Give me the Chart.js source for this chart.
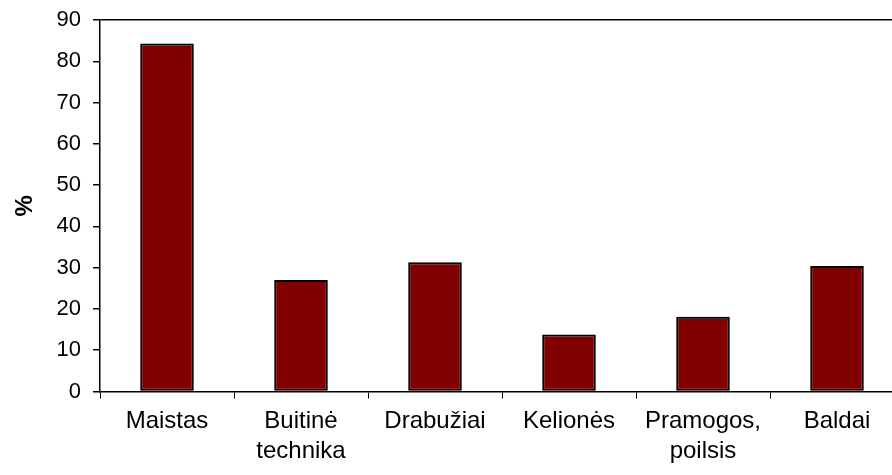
<!DOCTYPE html>
<html>
<head>
<meta charset="utf-8">
<script src="https://cdn.jsdelivr.net/npm/chart.js@4.4.0/dist/chart.umd.min.js"></script>
<style>
  html, body { margin: 0; padding: 0; background: #fff; overflow: hidden; width: 892px; height: 475px; }
  #wrap { position: absolute; left: 0; top: 0; width: 910px; height: 475px; }
</style>
</head>
<body>
<div id="wrap"><canvas id="c" width="910" height="475"></canvas></div>
<script>
const categories = ['Maistas', ['Buitinė', 'technika'], 'Drabužiai', 'Kelionės', ['Pramogos,', 'poilsis'], 'Baldai'];
const values = [84.3, 27.0, 31.3, 13.8, 18.1, 30.4];
const yTicks = [0, 10, 20, 30, 40, 50, 60, 70, 80, 90];
const yTitle = '%';

const FONT = '"Liberation Sans", Arial, sans-serif';

new Chart(document.getElementById('c'), {
  type: 'bar',
  data: {
    labels: categories,
    datasets: [{
      data: values,
      backgroundColor: '#800000',
      borderColor: '#000000',
      borderWidth: 2,
      borderSkipped: false,
      barPercentage: 0.4,
      categoryPercentage: 1.0
    }]
  },
  options: {
    responsive: false,
    animation: false,
    layout: { padding: { top: 20, right: 6, left: 0, bottom: 0 } },
    plugins: { legend: { display: false }, tooltip: { enabled: false } },
    scales: {
      x: {
        offset: true,
        border: { display: true, color: '#000', width: 1.5 },
        grid: { offset: true, drawOnChartArea: false, drawTicks: true, tickLength: 7, color: '#000', tickColor: '#000', lineWidth: 1 },
        ticks: { color: '#000', font: { family: FONT, size: 24, lineHeight: 1.25 }, padding: 8, maxRotation: 0, autoSkip: false },
        afterFit: s => { s.height = 83.5; s.paddingLeft = 0; s.paddingRight = 0; }
      },
      y: {
        min: 0, max: 90,
        afterBuildTicks: s => { s.ticks = yTicks.map(v => ({ value: v })); },
        border: { display: true, color: '#000', width: 1.5 },
        grid: {
          drawTicks: true, tickLength: 7, tickColor: '#000',
          color: c => (c.tick && c.tick.value === 90) ? '#000' : 'rgba(0,0,0,0)',
          lineWidth: 1.5
        },
        ticks: { color: '#000', font: { family: FONT, size: 22 }, padding: 12 },
        title: { display: true, text: yTitle, color: '#000', font: { family: FONT, size: 24, weight: 'bold' }, padding: { top: 11, bottom: 0 } },
        afterFit: s => { s.width = 100; s.paddingTop = 0; s.paddingBottom = 0; }
      }
    }
  }
});
</script>
</body>
</html>
